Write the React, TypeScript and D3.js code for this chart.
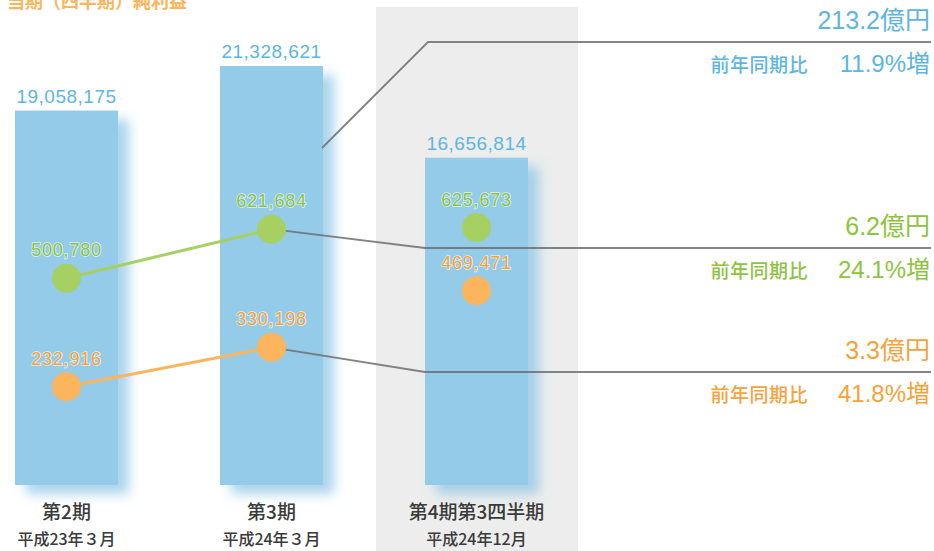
import React from 'react';
import * as d3 from 'd3';

const categories = ['第2期', '第3期', '第4期第3四半期'];
const periods = ['平成23年３月', '平成24年３月', '平成24年12月'];
const sales = [19058175, 21328621, 16656814];
const ordinaryIncome = [500780, 621684, 625673];
const netIncome = [232916, 330198, 469471];
const annotValues = ['213.2億円', '6.2億円', '3.3億円'];
const annotYoY = ['11.9%増', '24.1%増', '41.8%増'];
const yoyLabel = '前年同期比';
const title = '当期（四半期）純利益';

const W = 934;
const H = 551;
const BLUE = '#93cbe8';
const BLUE_T = '#5cb6e2';
const GREEN = '#a6d062';
const GREEN_T = '#8cc43f';
const ORANGE = '#fcb55c';
const ORANGE_T = '#f6a23a';
const NUM_FONT = '"Liberation Sans", Arial, "Noto Sans CJK JP", sans-serif';
const JP_FONT = '"Noto Sans CJK JP", sans-serif';

export default function App() {
  const x = d3.scaleBand<string>().domain(categories).range([15, 528]).paddingInner(102 / 205).paddingOuter(0);
  const bw = x.bandwidth();
  const yBar = d3.scaleLinear().domain([0, d3.max(sales) as number]).range([485, 66]);
  const yPt = d3.scaleLinear().domain([0, 1000000]).range([481, 76]);
  const cx = (i: number) => (x(categories[i]) as number) + bw / 2;

  const line = d3.line<[number, number]>().x(d => d[0]).y(d => d[1]);
  const greenPts: [number, number][] = ordinaryIncome.slice(0, 2).map((v, i) => [cx(i), yPt(v)]);
  const orangePts: [number, number][] = netIncome.slice(0, 2).map((v, i) => [cx(i), yPt(v)]);

  const bar3Left = x(categories[2]) as number;
  const bar2Right = (x(categories[1]) as number) + bw;
  const annotLineY = [42, 248, 372];
  const connectors: [number, number][][] = [
    [[bar2Right - 1, yBar(sales[1]) + 82], [bar3Left + 3, annotLineY[0]], [W - 3, annotLineY[0]]],
    [[cx(1), yPt(ordinaryIncome[1])], [bar3Left, annotLineY[1]], [W - 3, annotLineY[1]]],
    [[cx(1), yPt(netIncome[1])], [bar3Left, annotLineY[2]], [W - 3, annotLineY[2]]],
  ];
  const annotColors = [BLUE_T, GREEN_T, ORANGE_T];

  return (
    <svg width={W} height={H} style={{ position: 'absolute', left: 0, top: 0, background: '#fff' }}>
      <defs>
        <filter id="shadow" x="-20%" y="-10%" width="150%" height="130%">
          <feDropShadow dx="11" dy="9" stdDeviation="6" floodColor="#8ec6e6" floodOpacity="0.75" />
        </filter>
      </defs>
      <rect x={376} y={7} width={202} height={H - 7} fill="#ecedec" />
      <text x={7} y={8} fontFamily={JP_FONT} fontSize={18} fill={ORANGE} fontWeight={700}>{title}</text>

      {sales.map((v, i) => (
        <rect key={'b' + i} x={x(categories[i])} y={yBar(v)} width={bw} height={yBar(0) - yBar(v)} fill={BLUE} filter="url(#shadow)" />
      ))}
      {sales.map((v, i) => (
        <text key={'bl' + i} x={cx(i)} y={yBar(v) - 8} textAnchor="middle" fontFamily={NUM_FONT} fontSize={19} letterSpacing={0.5} fill={BLUE_T}>
          {d3.format(',')(v)}
        </text>
      ))}

      {connectors.map((pts, i) => (
        <path key={'c' + i} d={line(pts) as string} fill="none" stroke="#6d6f72" strokeOpacity={0.85} strokeWidth={1.8} />
      ))}

      <path d={line(greenPts) as string} fill="none" stroke={GREEN} strokeWidth={3} />
      <path d={line(orangePts) as string} fill="none" stroke={ORANGE} strokeWidth={3} />

      {ordinaryIncome.map((v, i) => (
        <g key={'g' + i}>
          <circle cx={cx(i)} cy={yPt(v)} r={14.5} fill={GREEN} />
          <text x={cx(i)} y={yPt(v) - 22} textAnchor="middle" fontFamily={NUM_FONT} fontSize={18} letterSpacing={0.8}
            fill={GREEN_T} stroke="#fff" strokeWidth={1.6} strokeOpacity={0.7} paintOrder="stroke">{d3.format(',')(v)}</text>
        </g>
      ))}
      {netIncome.map((v, i) => (
        <g key={'o' + i}>
          <circle cx={cx(i)} cy={yPt(v)} r={14.5} fill={ORANGE} />
          <text x={cx(i)} y={yPt(v) - 22} textAnchor="middle" fontFamily={NUM_FONT} fontSize={18} letterSpacing={0.8}
            fill={ORANGE_T} stroke="#fff" strokeWidth={1.6} strokeOpacity={0.7} paintOrder="stroke">{d3.format(',')(v)}</text>
        </g>
      ))}

      {annotValues.map((t, i) => (
        <g key={'a' + i}>
          <text x={930} y={annotLineY[i] - 13} textAnchor="end" fontFamily={NUM_FONT} fontSize={25} fill={annotColors[i]}>{t}</text>
          <text x={808} y={annotLineY[i] + 30} textAnchor="end" fontFamily={JP_FONT} fontSize={19} fontWeight={500} letterSpacing={0.5} fill={annotColors[i]}>{yoyLabel}</text>
          <text x={930} y={annotLineY[i] + 30} textAnchor="end" fontFamily={NUM_FONT} fontSize={24} fill={annotColors[i]}>{annotYoY[i]}</text>
        </g>
      ))}

      {categories.map((c, i) => (
        <g key={'x' + i}>
          <text x={cx(i)} y={519} textAnchor="middle" fontFamily={JP_FONT} fontSize={19} fontWeight={500} fill="#3a3a3a">{c}</text>
          <text x={cx(i)} y={545} textAnchor="middle" fontFamily={JP_FONT} fontSize={16} fontWeight={500} fill="#3a3a3a">{periods[i]}</text>
        </g>
      ))}
    </svg>
  );
}
